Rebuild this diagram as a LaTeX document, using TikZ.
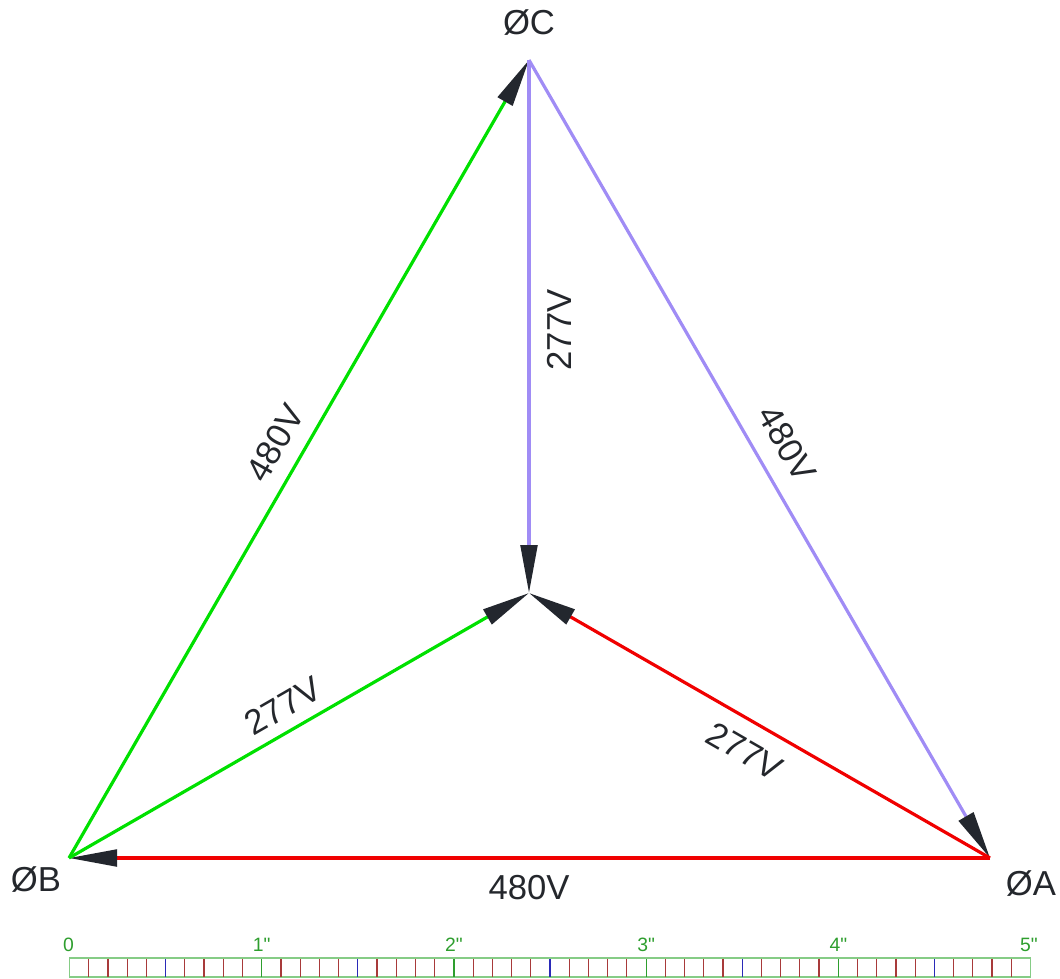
\documentclass[tikz,border=0pt]{standalone}
\usepackage{fontspec}
\setmainfont{Liberation Sans}
\newfontfamily\plainsans{Liberation Sans}[Ligatures=TeXOff]
\usetikzlibrary{arrows.meta}
\definecolor{lgreen}{HTML}{00E000}
\definecolor{lpurple}{HTML}{A08CF5}
\definecolor{lred}{HTML}{F00000}
\definecolor{arrowc}{HTML}{23272E}
\definecolor{textc}{HTML}{24272C}
\definecolor{sgreen}{HTML}{2E9E2E}
\definecolor{sbox}{HTML}{86CC86}
\definecolor{sblue}{HTML}{2A2AB8}
\definecolor{sred}{HTML}{A83A3A}
\tikzset{
  phasor/.style={line width=2.4pt, -{Triangle[length=36pt,width=12.5pt,color=arrowc]}},
  lbl/.style={text=textc, font=\fontsize{26}{30}\selectfont, inner sep=0pt},
  slbl/.style={text=sgreen, font=\plainsans\fontsize{14.5}{16}\selectfont, inner sep=0pt},
  pt/.style={coordinate}
}
\begin{document}
\begin{tikzpicture}[x=0.75pt,y=-0.75pt]
\useasboundingbox (0,0) rectangle (1060,978);
% points
\node[pt] (C) at (529,60) {};
\node[pt] (N) at (529,593) {};
\node[pt] (B) at (69,858) {};
\node[pt] (A) at (990,858) {};
% phase labels
\node[lbl] (lC) at (529,23) {ØC};
\node[lbl] (lB) at (36,880) {ØB};
\node[lbl] (lA) at (1031,884) {ØA};
% line-to-line
\draw[phasor, lgreen] (B) -- (C);
\draw[phasor, lpurple] (C) -- (A);
\draw[phasor, lred] (A) -- (B);
% line-to-neutral
\draw[phasor, lpurple] (C) -- (N);
\draw[phasor, lgreen] (B) -- (N);
\draw[phasor, lred] (A) -- (N);
% voltage labels
\node[lbl, rotate=60] (vBC) at (275,443) {480V};
\node[lbl, rotate=-60] (vCA) at (787,444) {480V};
\node[lbl] (vAB) at (529,888) {480V};
\node[lbl, rotate=90] (vCN) at (559,330) {277V};
\node[lbl, rotate=30] (vBN) at (283,706) {277V};
\node[lbl, rotate=-30] (vAN) at (745,751) {277V};
% scale bar
\draw[sbox, line width=1.1pt] (69.5,958) rectangle (1030.5,977);
\foreach \i in {1,...,49}{
  \pgfmathtruncatemacro\mten{mod(\i,10)}
  \pgfmathtruncatemacro\mfive{mod(\i,5)}
  \ifnum\mten=0 \def\tc{sgreen}\else\ifnum\mfive=0 \def\tc{sblue}\else\def\tc{sred}\fi\fi
  \draw[\tc, line width=0.9pt] (69.5+\i*19.22,958.5) -- (69.5+\i*19.22,976.5);
}
\node[slbl] (s0) at (68.5,945) {0};
\node[slbl] (s1) at (261.7,945) {1"};
\node[slbl] (s2) at (453.9,945) {2"};
\node[slbl] (s3) at (646.1,945) {3"};
\node[slbl] (s4) at (838.3,945) {4"};
\node[slbl] (s5) at (1029,945) {5"};
\end{tikzpicture}
\end{document}
